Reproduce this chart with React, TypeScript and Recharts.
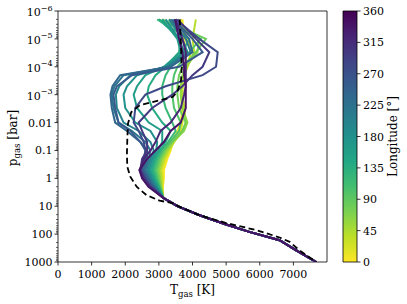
import { ScatterChart, Scatter, XAxis, YAxis, ReferenceArea, BarChart, Bar, Label } from "recharts";

// pressure levels [bar] shared by the upper part of every longitude profile
const pressureGrid = [2e-6, 1e-5, 3e-5, 1e-4, 2e-4, 5e-4, 1e-3, 3e-3, 0.01, 0.02, 0.05, 0.1, 0.2, 0.5, 1, 2, 5];
// deep part where all profiles converge
const deepPressure = [10, 21, 45, 83, 166, 380, 1000];
const deepTemp = [3550, 4210, 5000, 5690, 6590, 7085, 7680];

const longitudes = [0, 20, 40, 60, 80, 100, 120, 140, 160, 180, 200, 220, 240, 260, 280, 300, 320, 340];

const t000 = [3700, 3750, 3800, 3800, 3750, 3700, 3650, 3700, 3650, 3550, 3400, 3350, 3250, 3150, 3150, 3120, 3130];
const t020 = [3650, 3850, 3950, 3850, 3750, 3700, 3700, 3750, 3700, 3650, 3450, 3320, 3200, 3100, 3120, 3100, 3130];
const t040 = [4100, 4000, 4050, 3850, 3750, 3700, 3700, 3750, 3800, 3700, 3450, 3280, 3150, 3050, 3080, 3090, 3130];
const t060 = [3300, 4200, 4150, 3800, 3700, 3650, 3650, 3700, 3850, 3750, 3420, 3230, 3100, 3000, 3040, 3070, 3130];
const t080 = [3100, 4400, 4100, 3700, 3600, 3550, 3550, 3600, 3800, 3700, 3380, 3180, 3050, 2950, 3000, 3050, 3130];
const t100 = [3000, 4250, 3900, 3550, 3450, 3400, 3400, 3450, 3650, 3600, 3330, 3130, 3000, 2900, 2960, 3030, 3130];
const t120 = [2950, 3900, 3700, 3350, 3200, 3100, 3100, 3200, 3400, 3500, 3270, 3080, 2950, 2850, 2920, 3010, 3130];
const t140 = [3000, 3650, 3600, 3200, 2900, 2700, 2650, 2800, 3100, 3350, 3200, 3030, 2900, 2800, 2880, 2990, 3130];
const t160 = [3100, 3550, 3650, 3150, 2600, 2350, 2250, 2350, 2700, 3100, 3100, 2980, 2850, 2750, 2840, 2960, 3130];
const t180 = [3200, 3600, 3750, 3200, 2350, 2050, 1950, 2000, 2300, 2750, 2950, 2920, 2800, 2700, 2800, 2930, 3130];
const t200 = [3300, 3700, 3850, 3250, 2150, 1820, 1720, 1750, 1950, 2400, 2750, 2850, 2750, 2650, 2760, 2900, 3130];
const t220 = [3350, 3800, 3950, 3300, 1950, 1680, 1600, 1650, 1800, 2200, 2600, 2750, 2700, 2600, 2720, 2870, 3130];
const t240 = [3400, 3900, 4000, 3350, 1850, 1620, 1560, 1600, 1700, 2050, 2450, 2650, 2650, 2550, 2680, 2840, 3130];
const t260 = [3450, 4000, 4300, 3600, 2200, 1750, 1650, 1700, 1800, 2150, 2450, 2600, 2600, 2500, 2640, 2810, 3130];
const t280 = [3500, 4200, 4750, 4700, 4300, 3200, 2600, 2300, 2250, 2400, 2550, 2600, 2550, 2470, 2600, 2780, 3130];
const t300 = [3550, 4100, 4500, 4300, 4000, 3700, 3400, 2800, 2400, 2500, 2650, 2650, 2500, 2450, 2570, 2750, 3130];
const t320 = [3500, 3700, 3800, 3800, 3800, 3800, 3750, 3650, 3350, 3050, 2900, 2750, 2550, 2430, 2530, 2720, 3130];
const t340 = [3480, 3600, 3700, 3750, 3750, 3800, 3800, 3800, 3650, 3350, 3150, 2900, 2650, 2420, 2500, 2690, 3130];

const profiles = [t000, t020, t040, t060, t080, t100, t120, t140, t160, t180, t200, t220, t240, t260, t280, t300, t320, t340];

// dashed reference profile
const dashedPressure = [2e-6, 1e-5, 1e-4, 3e-4, 8e-4, 1.2e-3, 1.6e-3, 2.4e-3, 4.2e-3, 0.011, 0.044, 0.13, 0.38, 0.87, 2, 4, 6.3, 7.8, 11, 21, 40, 72, 132, 190, 380, 1000];
const dashedTemp = [3620, 3650, 3680, 3660, 3550, 3410, 3020, 2430, 2180, 2080, 2060, 2050, 2060, 2150, 2340, 2630, 3020, 3420, 3650, 4210, 5000, 5900, 6590, 6890, 7180, 7680];

const xTicks = [0, 1000, 2000, 3000, 4000, 5000, 6000, 7000];
const yMajor = [1e-6, 1e-5, 1e-4, 1e-3, 0.01, 0.1, 1, 10, 100, 1000];
const yLabels = ["10^−6", "10^−5", "10^−4", "10^−3", "0.01", "0.1", "1", "10", "100", "1000"];
const cbarTicks = [0, 45, 90, 135, 180, 225, 270, 315, 360];

const viridis = ["#440154", "#482475", "#414487", "#355f8d", "#2a788e", "#21918c", "#22a884", "#44bf70", "#7ad151", "#bddf26", "#fde725"];

const FONT = "'DejaVu Serif', 'Liberation Serif', serif";

function hexToRgb(h: string) {
  return [parseInt(h.slice(1, 3), 16), parseInt(h.slice(3, 5), 16), parseInt(h.slice(5, 7), 16)];
}

// viridis_r: 0 -> yellow, 360 -> purple
function lonColor(lon: number) {
  const t = Math.min(1, Math.max(0, 1 - lon / 360)) * (viridis.length - 1);
  const i = Math.min(viridis.length - 2, Math.floor(t));
  const f = t - i;
  const a = hexToRgb(viridis[i]);
  const b = hexToRgb(viridis[i + 1]);
  const c = a.map((v, k) => Math.round(v + (b[k] - v) * f));
  return `rgb(${c[0]},${c[1]},${c[2]})`;
}

const minorTicks: number[] = [];
for (let d = -6; d < 3; d++) {
  for (let k = 2; k < 10; k++) minorTicks.push(k * Math.pow(10, d));
}
const yTicks = [...yMajor, ...minorTicks];

function PressureTick(props: any) {
  const { x, y, payload } = props;
  const idx = yMajor.findIndex((v) => Math.abs(Math.log10(v) - Math.log10(payload.value)) < 1e-6);
  const major = idx >= 0;
  const len = major ? 3.5 : 2;
  const lab = major ? yLabels[idx] : null;
  let text = null;
  if (lab && lab.includes("^")) {
    const [base, sup] = lab.split("^");
    text = (
      <text x={x - 5.5} y={y + 5} textAnchor="end" fontSize={11} fontFamily={FONT} fill="#000">
        {base}
        <tspan dy={-5.5} fontSize={8}>{sup}</tspan>
      </text>
    );
  } else if (lab) {
    text = (
      <text x={x - 5.5} y={y + 4} textAnchor="end" fontSize={11} fontFamily={FONT} fill="#000">
        {lab}
      </text>
    );
  }
  return (
    <g>
      <line x1={x - len} x2={x} y1={y} y2={y} stroke="#000" strokeWidth={major ? 0.8 : 0.6} />
      {text}
    </g>
  );
}

function TempTick(props: any) {
  const { x, y, payload } = props;
  return (
    <g>
      <line x1={x} x2={x} y1={y} y2={y + 3.5} stroke="#000" strokeWidth={0.8} />
      <text x={x} y={y + 15.5} textAnchor="middle" fontSize={11} fontFamily={FONT} fill="#000">
        {payload.value}
      </text>
    </g>
  );
}

function CbarTick(props: any) {
  const { x, y, payload } = props;
  return (
    <g>
      <line x1={x} x2={x + 3.5} y1={y} y2={y} stroke="#000" strokeWidth={0.8} />
      <text x={x + 6} y={y + 4} textAnchor="start" fontSize={11} fontFamily={FONT} fill="#000">
        {payload.value}
      </text>
    </g>
  );
}

const NoDot = () => <g />;

export default function App() {
  const series = profiles.map((temps, i) => {
    const pts = temps.map((T, j) => ({ T, p: pressureGrid[j] }));
    deepPressure.forEach((p, j) => pts.push({ T: deepTemp[j], p }));
    return { lon: longitudes[i], pts };
  });
  const dashed = dashedTemp.map((T, j) => ({ T, p: dashedPressure[j] }));

  return (
    <div style={{ position: "fixed", left: 0, top: 0, width: 407, height: 304, background: "#fff" }}>
      <div style={{ position: "absolute", left: 0, top: 0 }}>
        <ScatterChart width={407} height={304} margin={{ top: 11, right: 80, left: 0, bottom: 0 }}>
          <XAxis
            type="number"
            dataKey="T"
            domain={[0, 8000]}
            ticks={xTicks}
            interval={0}
            allowDataOverflow
            height={42}
            tickSize={0}
            tickMargin={0}
            tickLine={false}
            axisLine={false}
            tick={<TempTick />}
          >
            <Label
              content={() => (
                <text x={192.5} y={294} textAnchor="middle" fontSize={12} fontFamily={FONT} fill="#000">
                  T<tspan dy={3} fontSize={8.5}>gas</tspan>
                  <tspan dy={-3}> [K]</tspan>
                </text>
              )}
            />
          </XAxis>
          <YAxis
            type="number"
            dataKey="p"
            scale="log"
            domain={[1e-6, 1000]}
            reversed
            allowDataOverflow
            ticks={yTicks}
            interval={0}
            width={58}
            tickSize={0}
            tickMargin={0}
            tickLine={false}
            axisLine={false}
            tick={<PressureTick />}
          >
            <Label
              content={() => (
                <text
                  x={17}
                  y={138}
                  transform="rotate(-90 17 138)"
                  textAnchor="middle"
                  fontSize={12}
                  fontFamily={FONT}
                  fill="#000"
                >
                  p<tspan dy={3} fontSize={8.5}>gas</tspan>
                  <tspan dy={-3}> [bar]</tspan>
                </text>
              )}
            />
          </YAxis>
          {series.map((s) => (
            <Scatter
              key={s.lon}
              data={s.pts}
              fill={lonColor(s.lon)}
              line={{ stroke: lonColor(s.lon), strokeWidth: 2 }}
              shape={NoDot}
              isAnimationActive={false}
            />
          ))}
          <Scatter
            data={dashed}
            fill="#000"
            line={{ stroke: "#000", strokeWidth: 1.8, strokeDasharray: "6 3.5" }}
            shape={NoDot}
            isAnimationActive={false}
          />
          <ReferenceArea x1={0} x2={8000} y1={1e-6} y2={1000} fill="none" stroke="#000" strokeWidth={0.8} />
        </ScatterChart>
      </div>
      <div style={{ position: "absolute", left: 0, top: 0 }}>
        <BarChart
          width={407}
          height={304}
          data={[{ name: "cbar", v: 360 }]}
          margin={{ top: 11, right: 0, left: 343, bottom: 42 }}
          barCategoryGap={0}
        >
          <defs>
            <linearGradient id="cbGrad" x1="0" y1="0" x2="0" y2="1">
              {viridis.map((c, i) => (
                <stop key={c} offset={i / (viridis.length - 1)} stopColor={c} />
              ))}
            </linearGradient>
          </defs>
          <XAxis dataKey="name" hide />
          <YAxis
            orientation="right"
            type="number"
            domain={[0, 360]}
            ticks={cbarTicks}
            interval={0}
            width={50}
            tickSize={0}
            tickMargin={0}
            tickLine={false}
            axisLine={false}
            tick={<CbarTick />}
          >
            <Label
              content={() => (
                <text
                  x={397}
                  y={136.5}
                  transform="rotate(-90 397 136.5)"
                  textAnchor="middle"
                  fontSize={12}
                  fontFamily={FONT}
                  fill="#000"
                >
                  Longitude [°]
                </text>
              )}
            />
          </YAxis>
          <Bar dataKey="v" fill="url(#cbGrad)" stroke="#000" strokeWidth={0.8} isAnimationActive={false} />
        </BarChart>
      </div>
    </div>
  );
}
